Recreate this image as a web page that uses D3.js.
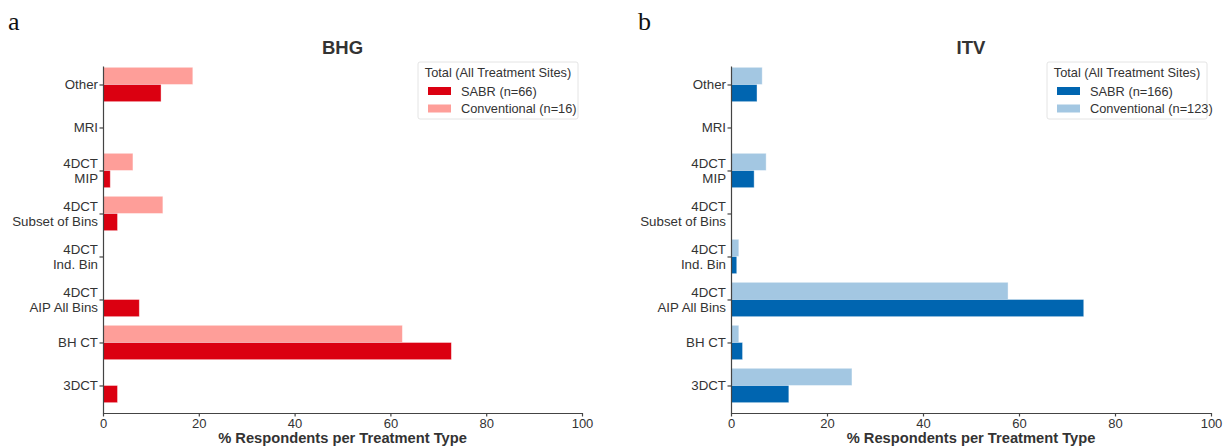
<!DOCTYPE html>
<html>
<head>
<meta charset="utf-8">
<script src="https://cdn.jsdelivr.net/npm/d3@7"></script>
<style>
  body { margin: 0; background: #fff; }
  svg text { font-family: "Liberation Sans", Arial, sans-serif; fill: #333; }
</style>
</head>
<body>
<svg id="chart" width="1224" height="448"></svg>
<script>
// categories from bottom (index 0) to top
var categories = ["3DCT", "BH CT", "4DCT\nAIP All Bins", "4DCT\nInd. Bin", "4DCT\nSubset of Bins", "4DCT\nMIP", "MRI", "Other"];

// % respondents, same order as categories
var bhgSabr = [3.03, 72.73, 7.58, 0, 3.03, 1.52, 0, 12.12];
var bhgConv = [0, 62.5, 0, 0, 12.5, 6.25, 0, 18.75];
var itvSabr = [12.05, 2.41, 73.49, 1.2, 0, 4.82, 0, 5.42];
var itvConv = [25.2, 1.63, 57.72, 1.63, 0, 7.32, 0, 6.5];

var xTicks = [0, 20, 40, 60, 80, 100];

var svg = d3.select("#chart");

/** draws one panel of the figure */
function drawPanel(opts) {
    var x = d3.scaleLinear().domain([0, 100]).range([opts.left, opts.right]);
    var y = d3.scaleLinear().domain([-0.64, 7.43]).range([413, 66]);
    var g = svg.append("g");

    // panel letter
    svg.append("text")
        .attr("x", opts.letterX).attr("y", 30)
        .style("font-family", "'Liberation Serif', 'DejaVu Serif', serif")
        .style("font-size", "26px").style("fill", "#111")
        .text(opts.letter);

    // title
    g.append("text")
        .attr("x", (opts.left + opts.right) / 2).attr("y", 54)
        .attr("text-anchor", "middle")
        .style("font-size", "18.5px").style("font-weight", "bold")
        .text(opts.title);

    // conventional bars sit above the tick, SABR below
    g.selectAll(".conv").data(opts.conv).enter().append("rect")
        .attr("x", x(0))
        .attr("y", (d, i) => y(i + 0.4))
        .attr("width", d => x(d) - x(0))
        .attr("height", y(0) - y(0.4))
        .attr("fill", opts.light)
        .attr("stroke", d => d > 0 ? "rgba(255,255,255,0.5)" : "none")
        .attr("stroke-width", 0.8);

    g.selectAll(".sabr").data(opts.sabr).enter().append("rect")
        .attr("x", x(0))
        .attr("y", (d, i) => y(i))
        .attr("width", d => x(d) - x(0))
        .attr("height", y(0) - y(0.4))
        .attr("fill", opts.dark)
        .attr("stroke", d => d > 0 ? "rgba(255,255,255,0.5)" : "none")
        .attr("stroke-width", 0.8);

    // x axis
    var xAxis = g.append("g")
        .attr("transform", "translate(0,413)")
        .call(d3.axisBottom(x).tickValues(xTicks).tickSize(3.5).tickSizeOuter(0).tickPadding(2));
    xAxis.selectAll("text").style("font-size", "13px").style("font-family", "'Liberation Sans', Arial, sans-serif");

    // y axis
    var yAxis = g.append("g")
        .attr("transform", "translate(" + opts.left + ",0)")
        .call(d3.axisLeft(y).tickValues(d3.range(categories.length)).tickSize(3.5).tickSizeOuter(0).tickFormat(""));
    yAxis.selectAll(".tick").each(function (d) {
        var lines = categories[d].split("\n");
        var t = d3.select(this).append("text")
            .attr("x", -5).attr("text-anchor", "end")
            .style("font-size", "13.3px").style("fill", "#333")
            .style("font-family", "'Liberation Sans', Arial, sans-serif");
        lines.forEach(function (s, k) {
            t.append("tspan").attr("x", -5)
                .attr("y", lines.length === 1 ? 4.5 : (k === 0 ? -3 : 12.5))
                .text(s);
        });
    });
    [xAxis, yAxis].forEach(a => {
        a.selectAll("path, line").attr("stroke", "#444").attr("stroke-width", 1.2);
    });

    // x label
    g.append("text")
        .attr("x", (opts.left + opts.right) / 2).attr("y", 443)
        .attr("text-anchor", "middle")
        .style("font-size", "14.7px").style("font-weight", "bold")
        .text("% Respondents per Treatment Type");

    // legend
    var lg = g.append("g").attr("transform", "translate(" + (opts.right - 164) + ",62)");
    lg.append("rect").attr("width", 160).attr("height", 57).attr("rx", 2)
        .attr("fill", "#fff").attr("stroke", "#ddd").attr("stroke-width", 0.8);
    lg.append("text").attr("x", 80).attr("y", 15).attr("text-anchor", "middle")
        .style("font-size", "12.8px").text("Total (All Treatment Sites)");
    opts.legend.forEach(function (item, k) {
        lg.append("rect").attr("x", 10).attr("y", 25 + k * 17.5).attr("width", 23).attr("height", 8)
            .attr("fill", item.color);
        lg.append("text").attr("x", 43).attr("y", 33.5 + k * 17.5)
            .style("font-size", "12.8px").text(item.label);
    });
}

drawPanel({
    left: 103, right: 582, letter: "a", letterX: 8, title: "BHG",
    sabr: bhgSabr, conv: bhgConv, dark: "#db0011", light: "#fe9e99",
    legend: [{label: "SABR (n=66)", color: "#db0011"}, {label: "Conventional (n=16)", color: "#fe9e99"}]
});

drawPanel({
    left: 731, right: 1211, letter: "b", letterX: 638, title: "ITV",
    sabr: itvSabr, conv: itvConv, dark: "#0065b0", light: "#a3c7e2",
    legend: [{label: "SABR (n=166)", color: "#0065b0"}, {label: "Conventional (n=123)", color: "#a3c7e2"}]
});
</script>
</body>
</html>
